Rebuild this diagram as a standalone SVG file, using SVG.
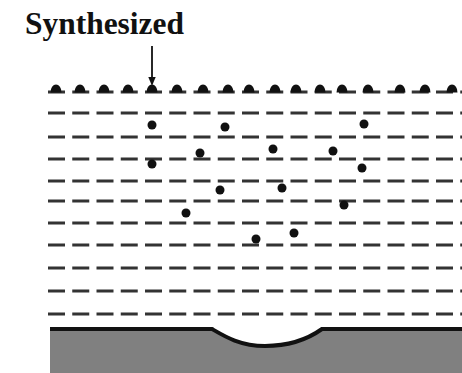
<svg xmlns="http://www.w3.org/2000/svg" width="462" height="373" viewBox="0 0 462 373">
  <style>
    .row { stroke: #333; stroke-width: 3; stroke-dasharray: 17 7.25; fill: none; }
    .dome { fill: #111; }
    .dot { fill: #111; }
    .label { font-family: "Liberation Serif", "Times New Roman", serif; font-weight: bold; font-size: 32px; fill: #111; }
  </style>
  <defs>
    <path id="dome" d="M-5.5,0.5 A5.5,8 0 0 1 5.5,0.5 Z"/>
  </defs>
  <rect width="462" height="373" fill="#fff"/>

  <!-- label and pointer -->
  <g id="label">
    <text class="label" x="25" y="34" textLength="159" lengthAdjust="spacingAndGlyphs">Synthesized</text>
  </g>
  <g id="pointer">
    <line x1="152" y1="46" x2="152" y2="80" stroke="#111" stroke-width="1.8"/>
    <polygon points="148.3,77 155.7,77 152,86" fill="#111"/>
  </g>

  <!-- top surface layer with synthesized particles -->
  <g id="surface-layer">
    <line class="row" x1="48" y1="92" x2="462" y2="92"/>
    <g class="dome">
      <use href="#dome" x="56" y="92"/>
      <use href="#dome" x="80" y="92"/>
      <use href="#dome" x="104" y="92"/>
      <use href="#dome" x="128" y="92"/>
      <use href="#dome" x="152" y="92"/>
      <use href="#dome" x="177" y="92"/>
      <use href="#dome" x="203" y="92"/>
      <use href="#dome" x="228" y="92"/>
      <use href="#dome" x="249" y="92"/>
      <use href="#dome" x="275" y="92"/>
      <use href="#dome" x="296" y="92"/>
      <use href="#dome" x="320" y="92"/>
      <use href="#dome" x="342" y="92"/>
      <use href="#dome" x="368" y="92"/>
      <use href="#dome" x="400" y="92"/>
      <use href="#dome" x="425" y="92"/>
      <use href="#dome" x="452" y="92"/>
    </g>
  </g>

  <!-- liquid layers -->
  <g id="layers">
    <line class="row" x1="48" y1="113" x2="462" y2="113"/>
    <line class="row" x1="48" y1="137" x2="462" y2="137"/>
    <line class="row" x1="48" y1="159" x2="462" y2="159"/>
    <line class="row" x1="48" y1="181" x2="462" y2="181"/>
    <line class="row" x1="48" y1="201" x2="462" y2="201"/>
    <line class="row" x1="48" y1="223" x2="462" y2="223"/>
    <line class="row" x1="48" y1="245" x2="462" y2="245"/>
    <line class="row" x1="48" y1="268" x2="462" y2="268"/>
    <line class="row" x1="48" y1="291" x2="462" y2="291"/>
    <line class="row" x1="48" y1="314" x2="462" y2="314"/>
  </g>

  <!-- dispersed particles -->
  <g id="particles" class="dot">
    <circle cx="152" cy="125" r="4.5"/>
    <circle cx="225" cy="127" r="4.5"/>
    <circle cx="364" cy="124" r="4.5"/>
    <circle cx="152" cy="164" r="4.5"/>
    <circle cx="200" cy="153" r="4.5"/>
    <circle cx="273" cy="149" r="4.5"/>
    <circle cx="333" cy="151" r="4.5"/>
    <circle cx="362" cy="168" r="4.5"/>
    <circle cx="220" cy="190" r="4.5"/>
    <circle cx="282" cy="188" r="4.5"/>
    <circle cx="344" cy="205" r="4.5"/>
    <circle cx="186" cy="213" r="4.5"/>
    <circle cx="256" cy="239" r="4.5"/>
    <circle cx="294" cy="233" r="4.5"/>
  </g>

  <!-- substrate with etched pit -->
  <g id="substrate">
    <path d="M50,329 L212,329 C224,336 240,346 265,346 C288,346 308,339 322,329 L462,329 L462,373 L50,373 Z" fill="#808080"/>
    <path d="M50,329 L212,329 C224,336 240,346 265,346 C288,346 308,339 322,329 L462,329" fill="none" stroke="#111" stroke-width="4"/>
  </g>
</svg>
